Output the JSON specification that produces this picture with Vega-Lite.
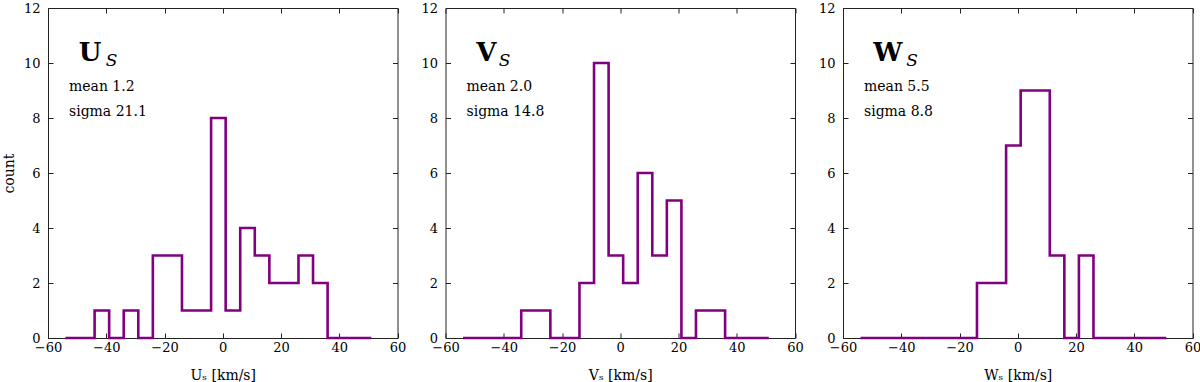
{
  "$schema": "https://vega.github.io/schema/vega-lite/v6.json",
  "padding": {"left": 1, "top": 1, "right": 0, "bottom": 0},
  "background": "white",
  "bounds": "flush",
  "spacing": 47.5,
  "datasets": {
    "hist": [
      {"panel": "U", "v": -54, "count": 0}, {"panel": "U", "v": -49, "count": 0}, {"panel": "U", "v": -44, "count": 1},
      {"panel": "U", "v": -39, "count": 0}, {"panel": "U", "v": -34, "count": 1}, {"panel": "U", "v": -29, "count": 0},
      {"panel": "U", "v": -24, "count": 3}, {"panel": "U", "v": -19, "count": 3}, {"panel": "U", "v": -14, "count": 1},
      {"panel": "U", "v": -9, "count": 1}, {"panel": "U", "v": -4, "count": 8}, {"panel": "U", "v": 1, "count": 1},
      {"panel": "U", "v": 6, "count": 4}, {"panel": "U", "v": 11, "count": 3}, {"panel": "U", "v": 16, "count": 2},
      {"panel": "U", "v": 21, "count": 2}, {"panel": "U", "v": 26, "count": 3}, {"panel": "U", "v": 31, "count": 2},
      {"panel": "U", "v": 36, "count": 0}, {"panel": "U", "v": 41, "count": 0}, {"panel": "U", "v": 46, "count": 0},
      {"panel": "U", "v": 51, "count": 0},
      {"panel": "V", "v": -54, "count": 0}, {"panel": "V", "v": -49, "count": 0}, {"panel": "V", "v": -44, "count": 0},
      {"panel": "V", "v": -39, "count": 0}, {"panel": "V", "v": -34, "count": 1}, {"panel": "V", "v": -29, "count": 1},
      {"panel": "V", "v": -24, "count": 0}, {"panel": "V", "v": -19, "count": 0}, {"panel": "V", "v": -14, "count": 2},
      {"panel": "V", "v": -9, "count": 10}, {"panel": "V", "v": -4, "count": 3}, {"panel": "V", "v": 1, "count": 2},
      {"panel": "V", "v": 6, "count": 6}, {"panel": "V", "v": 11, "count": 3}, {"panel": "V", "v": 16, "count": 5},
      {"panel": "V", "v": 21, "count": 0}, {"panel": "V", "v": 26, "count": 1}, {"panel": "V", "v": 31, "count": 1},
      {"panel": "V", "v": 36, "count": 0}, {"panel": "V", "v": 41, "count": 0}, {"panel": "V", "v": 46, "count": 0},
      {"panel": "V", "v": 51, "count": 0},
      {"panel": "W", "v": -54, "count": 0}, {"panel": "W", "v": -49, "count": 0}, {"panel": "W", "v": -44, "count": 0},
      {"panel": "W", "v": -39, "count": 0}, {"panel": "W", "v": -34, "count": 0}, {"panel": "W", "v": -29, "count": 0},
      {"panel": "W", "v": -24, "count": 0}, {"panel": "W", "v": -19, "count": 0}, {"panel": "W", "v": -14, "count": 2},
      {"panel": "W", "v": -9, "count": 2}, {"panel": "W", "v": -4, "count": 7}, {"panel": "W", "v": 1, "count": 9},
      {"panel": "W", "v": 6, "count": 9}, {"panel": "W", "v": 11, "count": 3}, {"panel": "W", "v": 16, "count": 0},
      {"panel": "W", "v": 21, "count": 3}, {"panel": "W", "v": 26, "count": 0}, {"panel": "W", "v": 31, "count": 0},
      {"panel": "W", "v": 36, "count": 0}, {"panel": "W", "v": 41, "count": 0}, {"panel": "W", "v": 46, "count": 0},
      {"panel": "W", "v": 51, "count": 0}
    ],
    "notes": [
      {"panel": "U", "name": "U", "sub": "S", "mean": "mean 1.2", "sigma": "sigma 21.1"},
      {"panel": "V", "name": "V", "sub": "S", "mean": "mean 2.0", "sigma": "sigma 14.8"},
      {"panel": "W", "name": "W", "sub": "S", "mean": "mean 5.5", "sigma": "sigma 8.8"}
    ]
  },
  "config": {
    "view": {"stroke": "#222222", "strokeWidth": 1},
    "axis": {
      "grid": false, "domain": false, "tickColor": "#222222", "tickSize": -5, "tickWidth": 1,
      "labelFont": "DejaVu Serif", "labelFontSize": 13, "labelColor": "#000000", "labelFlush": false, "labelOverlap": false,
      "titleFont": "DejaVu Serif", "titleFontSize": 14, "titleFontWeight": "normal", "titleColor": "#000000"
    },
    "text": {"font": "DejaVu Serif", "color": "#000000"}
  },
  "hconcat": [
    {
      "width": 349.5, "height": 330,
      "resolve": {"axis": {"x": "independent", "y": "independent"}},
      "layer": [
        {
          "data": {"name": "hist"},
          "transform": [{"filter": "datum.panel === 'U'"}],
          "mark": {"type": "line", "interpolate": "step-after", "color": "#800080", "strokeWidth": 2.6},
          "encoding": {
            "x": {"field": "v", "type": "quantitative", "scale": {"domain": [-60, 60], "nice": false, "zero": false},
                  "axis": {"values": [-60, -40, -20, 0, 20, 40, 60], "format": "d", "labelPadding": 8, "title": "Uₛ [km/s]", "titlePadding": 14}},
            "y": {"field": "count", "type": "quantitative", "scale": {"domain": [0, 12], "nice": false},
                  "axis": {"values": [0, 2, 4, 6, 8, 10, 12], "format": "d", "labelPadding": 13, "title": "count", "titlePadding": 7}}
          }
        },
        {
          "data": {"values": [{}]},
          "mark": {"type": "point", "opacity": 0},
          "encoding": {
            "x": {"datum": 0, "type": "quantitative", "axis": {"orient": "top", "values": [-60, -40, -20, 0, 20, 40, 60], "labels": false, "title": null}},
            "y": {"datum": 0, "type": "quantitative", "axis": {"orient": "right", "values": [0, 2, 4, 6, 8, 10, 12], "labels": false, "title": null}}
          }
        },
        {
          "data": {"name": "notes"},
          "transform": [{"filter": "datum.panel === 'U'"}],
          "mark": {"type": "text", "align": "left", "baseline": "alphabetic", "fontSize": 26, "fontWeight": "bold"},
          "encoding": {"x": {"datum": -49.4, "type": "quantitative", "axis": null}, "y": {"datum": 10.08, "type": "quantitative", "axis": null}, "text": {"field": "name"}}
        },
        {
          "data": {"name": "notes"},
          "transform": [{"filter": "datum.panel === 'U'"}],
          "mark": {"type": "text", "align": "left", "baseline": "alphabetic", "fontSize": 17, "fontStyle": "italic"},
          "encoding": {"x": {"datum": -40.2, "type": "quantitative", "axis": null}, "y": {"datum": 9.88, "type": "quantitative", "axis": null}, "text": {"field": "sub"}}
        },
        {
          "data": {"name": "notes"},
          "transform": [{"filter": "datum.panel === 'U'"}],
          "mark": {"type": "text", "align": "left", "baseline": "alphabetic", "fontSize": 14},
          "encoding": {"x": {"datum": -52.8, "type": "quantitative", "axis": null}, "y": {"datum": 8.99, "type": "quantitative", "axis": null}, "text": {"field": "mean"}}
        },
        {
          "data": {"name": "notes"},
          "transform": [{"filter": "datum.panel === 'U'"}],
          "mark": {"type": "text", "align": "left", "baseline": "alphabetic", "fontSize": 14},
          "encoding": {"x": {"datum": -52.8, "type": "quantitative", "axis": null}, "y": {"datum": 8.07, "type": "quantitative", "axis": null}, "text": {"field": "sigma"}}
        }
      ]
    },
    {
      "width": 349.5, "height": 330,
      "resolve": {"axis": {"x": "independent", "y": "independent"}},
      "layer": [
        {
          "data": {"name": "hist"},
          "transform": [{"filter": "datum.panel === 'V'"}],
          "mark": {"type": "line", "interpolate": "step-after", "color": "#800080", "strokeWidth": 2.6},
          "encoding": {
            "x": {"field": "v", "type": "quantitative", "scale": {"domain": [-60, 60], "nice": false, "zero": false},
                  "axis": {"values": [-60, -40, -20, 0, 20, 40, 60], "format": "d", "labelPadding": 8, "title": "Vₛ [km/s]", "titlePadding": 14}},
            "y": {"field": "count", "type": "quantitative", "scale": {"domain": [0, 12], "nice": false},
                  "axis": {"values": [0, 2, 4, 6, 8, 10, 12], "format": "d", "labelPadding": 13, "title": null}}
          }
        },
        {
          "data": {"values": [{}]},
          "mark": {"type": "point", "opacity": 0},
          "encoding": {
            "x": {"datum": 0, "type": "quantitative", "axis": {"orient": "top", "values": [-60, -40, -20, 0, 20, 40, 60], "labels": false, "title": null}},
            "y": {"datum": 0, "type": "quantitative", "axis": {"orient": "right", "values": [0, 2, 4, 6, 8, 10, 12], "labels": false, "title": null}}
          }
        },
        {
          "data": {"name": "notes"},
          "transform": [{"filter": "datum.panel === 'V'"}],
          "mark": {"type": "text", "align": "left", "baseline": "alphabetic", "fontSize": 26, "fontWeight": "bold"},
          "encoding": {"x": {"datum": -49.4, "type": "quantitative", "axis": null}, "y": {"datum": 10.08, "type": "quantitative", "axis": null}, "text": {"field": "name"}}
        },
        {
          "data": {"name": "notes"},
          "transform": [{"filter": "datum.panel === 'V'"}],
          "mark": {"type": "text", "align": "left", "baseline": "alphabetic", "fontSize": 17, "fontStyle": "italic"},
          "encoding": {"x": {"datum": -41.7, "type": "quantitative", "axis": null}, "y": {"datum": 9.88, "type": "quantitative", "axis": null}, "text": {"field": "sub"}}
        },
        {
          "data": {"name": "notes"},
          "transform": [{"filter": "datum.panel === 'V'"}],
          "mark": {"type": "text", "align": "left", "baseline": "alphabetic", "fontSize": 14},
          "encoding": {"x": {"datum": -52.8, "type": "quantitative", "axis": null}, "y": {"datum": 8.99, "type": "quantitative", "axis": null}, "text": {"field": "mean"}}
        },
        {
          "data": {"name": "notes"},
          "transform": [{"filter": "datum.panel === 'V'"}],
          "mark": {"type": "text", "align": "left", "baseline": "alphabetic", "fontSize": 14},
          "encoding": {"x": {"datum": -52.8, "type": "quantitative", "axis": null}, "y": {"datum": 8.07, "type": "quantitative", "axis": null}, "text": {"field": "sigma"}}
        }
      ]
    },
    {
      "width": 349.5, "height": 330,
      "resolve": {"axis": {"x": "independent", "y": "independent"}},
      "layer": [
        {
          "data": {"name": "hist"},
          "transform": [{"filter": "datum.panel === 'W'"}],
          "mark": {"type": "line", "interpolate": "step-after", "color": "#800080", "strokeWidth": 2.6},
          "encoding": {
            "x": {"field": "v", "type": "quantitative", "scale": {"domain": [-60, 60], "nice": false, "zero": false},
                  "axis": {"values": [-60, -40, -20, 0, 20, 40, 60], "format": "d", "labelPadding": 8, "title": "Wₛ [km/s]", "titlePadding": 14}},
            "y": {"field": "count", "type": "quantitative", "scale": {"domain": [0, 12], "nice": false},
                  "axis": {"values": [0, 2, 4, 6, 8, 10, 12], "format": "d", "labelPadding": 13, "title": null}}
          }
        },
        {
          "data": {"values": [{}]},
          "mark": {"type": "point", "opacity": 0},
          "encoding": {
            "x": {"datum": 0, "type": "quantitative", "axis": {"orient": "top", "values": [-60, -40, -20, 0, 20, 40, 60], "labels": false, "title": null}},
            "y": {"datum": 0, "type": "quantitative", "axis": {"orient": "right", "values": [0, 2, 4, 6, 8, 10, 12], "labels": false, "title": null}}
          }
        },
        {
          "data": {"name": "notes"},
          "transform": [{"filter": "datum.panel === 'W'"}],
          "mark": {"type": "text", "align": "left", "baseline": "alphabetic", "fontSize": 26, "fontWeight": "bold"},
          "encoding": {"x": {"datum": -49.6, "type": "quantitative", "axis": null}, "y": {"datum": 10.08, "type": "quantitative", "axis": null}, "text": {"field": "name"}}
        },
        {
          "data": {"name": "notes"},
          "transform": [{"filter": "datum.panel === 'W'"}],
          "mark": {"type": "text", "align": "left", "baseline": "alphabetic", "fontSize": 17, "fontStyle": "italic"},
          "encoding": {"x": {"datum": -38.3, "type": "quantitative", "axis": null}, "y": {"datum": 9.88, "type": "quantitative", "axis": null}, "text": {"field": "sub"}}
        },
        {
          "data": {"name": "notes"},
          "transform": [{"filter": "datum.panel === 'W'"}],
          "mark": {"type": "text", "align": "left", "baseline": "alphabetic", "fontSize": 14},
          "encoding": {"x": {"datum": -52.8, "type": "quantitative", "axis": null}, "y": {"datum": 8.99, "type": "quantitative", "axis": null}, "text": {"field": "mean"}}
        },
        {
          "data": {"name": "notes"},
          "transform": [{"filter": "datum.panel === 'W'"}],
          "mark": {"type": "text", "align": "left", "baseline": "alphabetic", "fontSize": 14},
          "encoding": {"x": {"datum": -52.8, "type": "quantitative", "axis": null}, "y": {"datum": 8.07, "type": "quantitative", "axis": null}, "text": {"field": "sigma"}}
        }
      ]
    }
  ]
}
